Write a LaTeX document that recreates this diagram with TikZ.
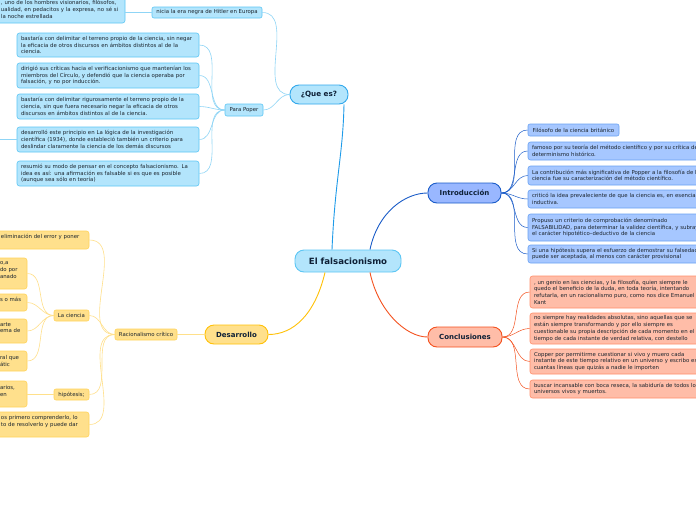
\documentclass[tikz,border=0pt]{standalone}
\usepackage{fontspec}
\setmainfont{DejaVu Sans}
\definecolor{txt}{HTML}{1C252E}
\definecolor{ttl}{HTML}{0E2036}
\definecolor{qfill}{HTML}{B3E5FC}
\definecolor{qdraw}{HTML}{5CC6F4}
\definecolor{qline}{HTML}{8FD5F6}
\definecolor{qmain}{HTML}{1E9BE9}
\definecolor{ifill}{HTML}{A6C7FF}
\definecolor{idraw}{HTML}{6AA2F2}
\definecolor{imain}{HTML}{1A5CC8}
\definecolor{cfill}{HTML}{FFBDA8}
\definecolor{cdraw}{HTML}{FF8F6B}
\definecolor{cmain}{HTML}{F4511E}
\definecolor{dfill}{HTML}{FFE08C}
\definecolor{ddraw}{HTML}{FFD45A}
\definecolor{dmain}{HTML}{FFC107}
\definecolor{dline}{HTML}{FFE08A}
\begin{document}
\begin{tikzpicture}[x=1pt,y=-1pt,
  every node/.style={text=txt},
  body/.style={font=\fontsize{5.4}{6.7}\selectfont, inner xsep=4pt, inner ysep=1pt,
    align=left, rounded corners=2.5pt, line width=0.6pt},
  hub/.style={font=\fontsize{5.4}{6.7}\selectfont, inner sep=1pt, align=center,
    rounded corners=2pt, line width=0.6pt},
  mainnode/.style={font=\bfseries\fontsize{7}{8}\selectfont, text=ttl,
    rounded corners=9pt, line width=0.9pt, inner sep=2pt},
  qbox/.style={fill=qfill, draw=qdraw},
  ibox/.style={fill=ifill, draw=idraw},
  cbox/.style={fill=cfill, draw=cdraw},
  dbox/.style={fill=dfill, draw=ddraw},
  qlink/.style={draw=qline, line width=0.6pt},
  ilink/.style={draw=imain, line width=0.5pt},
  clink/.style={draw=cmain, line width=0.5pt},
  dlink/.style={draw=dline, line width=0.6pt},
]
\fill[white] (0,0) rectangle (696,520);
\useasboundingbox (0,0) rectangle (696,520);
\clip (0,0) rectangle (696,520);

% ---------- central and main nodes ----------
\node[mainnode, fill=qfill, draw=qdraw, minimum width=106pt, minimum height=22pt,
  font=\bfseries\fontsize{8.6}{10}\selectfont] (central) at (348,261) {El falsacionismo};
\node[mainnode, fill=qfill, draw=qmain!70!qdraw, minimum width=58pt, minimum height=19pt,
  font=\bfseries\fontsize{7.2}{8}\selectfont] (quees) at (319,94.5) {¿Que es?};
\node[mainnode, fill=ifill!92!blue, draw=imain, minimum width=73pt, minimum height=20pt] (intro) at (464.5,193) {Introducción};
\node[mainnode, fill=cfill, draw=cmain, minimum width=74pt, minimum height=20pt] (concl) at (465,337) {Conclusiones};
\node[mainnode, fill=dfill, draw=dmain, minimum width=63pt, minimum height=19pt] (desa) at (236.5,334.5) {Desarrollo};

% ---------- ¿Que es? branch ----------
\node[body, qbox, text width=120pt, minimum height=27pt] (qa) at (61,9.5)
  {, uno de los hombres visionarios, filósofos,\\ualidad, en pedacitos y la expresa, no sé si\\la noche estrellada};
\node[hub, qbox, minimum width=110pt, minimum height=11pt] (qb) at (207,12.5)
  {nicia la era negra de Hitler en Europa};
\node[hub, qbox, minimum width=38pt, minimum height=12pt] (qp) at (244,110) {Para Poper};
\node[body, qbox, text width=174pt, minimum height=24pt] (p1) at (108,45)
  {bastaría con delimitar el terreno propio de la ciencia, sin negar\\la eficacia de otros discursos en ámbitos distintos al de la\\ciencia.};
\node[body, qbox, text width=174pt, minimum height=25pt] (p2) at (108,75.5)
  {dirigió sus críticas hacia el verificacionismo que mantenían los\\miembros del Círculo, y defendió que la ciencia operaba por\\falsación, y no por inducción.};
\node[body, qbox, text width=174pt, minimum height=25pt] (p3) at (108,106.5)
  {bastaría con delimitar rigurosamente el terreno propio de la\\ciencia, sin que fuera necesario negar la eficacia de otros\\discursos en ámbitos distintos al de la ciencia.};
\node[body, qbox, text width=174pt, minimum height=25pt] (p4) at (108,139.5)
  {desarrolló este principio en La lógica de la investigación\\científica (1934), donde estableció también un criterio para\\deslindar claramente la ciencia de los demás discursos};
\node[body, qbox, text width=174pt, minimum height=25pt] (p5) at (108,173.5)
  {resumió su modo de pensar en el concepto falsacionismo. La\\idea es así: una afirmación es falsable si es que es posible\\(aunque sea sólo en teoría)};
\coordinate (p4stub) at (-2,139.5);

% ---------- Introducción branch ----------
\node[hub, ibox, minimum width=91pt, minimum height=12pt] (i1) at (573.5,130)
  {Filósofo de la ciencia británico};
\node[body, ibox, text width=184pt, minimum height=18pt] (i2) at (624,151)
  {famoso por su teoría del método científico y por su crítica del\\determinismo histórico.};
\node[body, ibox, text width=184pt, minimum height=19pt] (i3) at (624,175.5)
  {La contribución más significativa de Popper a la filosofía de la\\ciencia fue su caracterización del método científico.};
\node[body, ibox, text width=184pt, minimum height=18pt] (i4) at (624,199)
  {criticó la idea prevaleciente de que la ciencia es, en esencia,\\inductiva.};
\node[body, ibox, text width=184pt, minimum height=27pt] (i5) at (624,227.5)
  {Propuso un criterio de comprobación denominado\\FALSABILIDAD, para determinar la validez científica, y subrayó\\el carácter hipotético–deductivo de la ciencia};
\node[body, ibox, text width=184pt, minimum height=18pt] (i6) at (624,254)
  {Si una hipótesis supera el esfuerzo de demostrar su falsedad,\\puede ser aceptada, al menos con carácter provisional};

% ---------- Conclusiones branch ----------
\node[body, cbox, text width=182pt, minimum height=32pt] (c1) at (625,292)
  {, un genio en las ciencias, y la filosofía, quien siempre le\\quedo el beneficio de la duda, en toda teoría, intentando\\refutarla, en un racionalismo puro, como nos dice Emanuel\\Kant};
\node[body, cbox, text width=182pt, minimum height=31pt] (c2) at (625,328.5)
  {no siempre hay realidades absolutas, sino aquellas que se\\están siempre transformando y por ello siempre es\\cuestionable su propia descripción de cada momento en el\\tiempo de cada instante de verdad relativa, con destello};
\node[body, cbox, text width=182pt, minimum height=25pt] (c3) at (625,361.5)
  {Copper por permitirme cuestionar si vivo y muero cada\\instante de este tiempo relativo en un universo y escribo estas\\cuantas líneas que quizás a nadie le importen};
\node[body, cbox, text width=182pt, minimum height=18pt] (c4) at (625,389)
  {buscar incansable con boca reseca, la sabiduría de todos los\\universos vivos y muertos.};

% ---------- Desarrollo branch ----------
\node[hub, dbox, minimum width=62pt, minimum height=11pt] (rc) at (146,334.5) {Racionalismo crítico};
\node[hub, dbox, minimum width=35pt, minimum height=11pt] (lc) at (71.5,315.5) {La ciencia};
\node[hub, dbox, minimum width=35pt, minimum height=11pt] (hy) at (71.5,394.5) {hipótesis;};
\node[body, dbox, text width=84pt, minimum height=18pt] (el) at (43,240)
  {eliminación del error y poner\\\mbox{}};
\node[body, dbox, text width=84pt, minimum height=25pt] (bo) at (43,424.5)
  {os primero comprenderlo, lo\\to de resolverlo y puede dar\\\mbox{}};
\node[body, dbox, inner xsep=3pt, text width=24pt, minimum height=31pt] (l1) at (12,273.5)
  {o,a\\do por\\anado\\\mbox{}};
\node[body, dbox, inner xsep=3pt, text width=24pt, minimum height=17pt] (l2) at (12,302.5)
  {s o más\\\mbox{}};
\node[body, dbox, inner xsep=3pt, text width=24pt, minimum height=24pt] (l3) at (12,331)
  {arte\\ema de\\\mbox{}};
\node[body, dbox, inner xsep=3pt, text width=24pt, minimum height=20pt] (l4) at (12,361)
  {ral que\\átic};
\node[body, dbox, inner xsep=3pt, text width=24pt, minimum height=26pt] (h1) at (12,394)
  {arios,\\en\\\mbox{}};

% ---------- main connectors ----------
\draw[qmain, line width=0.9pt] ([xshift=-16pt]central.north) .. controls +(3,-70) and +(-1,50) .. ([xshift=25pt]quees.south);
\draw[imain, line width=0.9pt] ([xshift=22pt]central.north) .. controls +(8,-38) and +(-22,0) .. (intro.west);
\draw[cmain, line width=0.9pt] ([xshift=22pt]central.south) .. controls +(8,38) and +(-22,0) .. (concl.west);
\draw[dmain, line width=0.9pt] ([xshift=-23pt]central.south) .. controls +(-10,42) and +(25,0) .. (desa.east);

% ---------- ¿Que es? links ----------
\draw[qlink] (quees.west) to[out=180,in=0] (qb.east);
\draw[qlink] (quees.west) to[out=180,in=0] (qp.east);
\draw[qlink] (qb.west) -- (qa.east |- qb.west);
\foreach \n in {p1,p2,p3,p4,p5}{\draw[qlink] (qp.west) to[out=180,in=0] (\n.east);}
\draw[qlink] (p4stub) -- (p4.west);

% ---------- Introducción links ----------
\foreach \n in {i1,i2,i3,i4,i5,i6}{\draw[ilink] (intro.east) to[out=0,in=180] (\n.west);}

% ---------- Conclusiones links ----------
\foreach \n in {c1,c2,c3,c4}{\draw[clink] (concl.east) to[out=0,in=180] (\n.west);}

% ---------- Desarrollo links ----------
\draw[dlink] (desa.west) -- (rc.east);
\foreach \n in {el,lc,hy,bo}{\draw[dlink] (rc.west) to[out=180,in=0] (\n.east);}
\foreach \n in {l1,l2,l3,l4}{\draw[dlink] (lc.west) to[out=180,in=0] (\n.east);}
\draw[dlink] (hy.west) -- (h1.east |- hy.west);
\end{tikzpicture}
\end{document}
